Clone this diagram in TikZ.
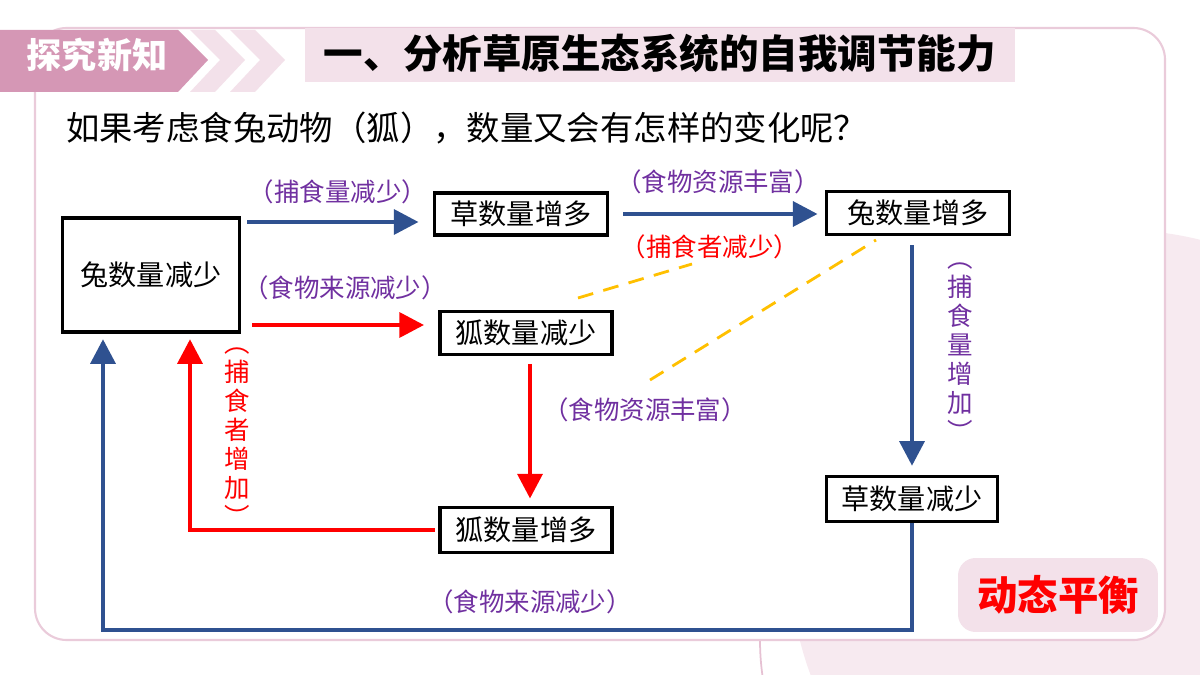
\documentclass[tikz,border=0pt]{standalone}
\usepackage{fontspec}
\setmainfont{Noto Sans CJK SC}
\usetikzlibrary{arrows.meta}
\definecolor{tagpink}{HTML}{D597B5}
\definecolor{lightpink}{HTML}{F3E1EA}
\definecolor{flowblue}{HTML}{2F5190}
\definecolor{flowpurple}{HTML}{7030A0}
\definecolor{dashorange}{HTML}{FFC000}
\tikzset{
  box/.style={draw,line width=2.2pt,fill=white,inner sep=0pt,font=\fontsize{16}{18}\selectfont},
  lbl/.style={text=flowpurple,font=\fontsize{14.5}{16}\selectfont,inner sep=0pt},
  vlbl/.style={lbl,align=center,font=\fontsize{14.5}{16.5}\selectfont},
  bluearrow/.style={flowblue,line width=2.5pt,-{Triangle[length=14pt,width=14pt]}},
  redarrow/.style={red,line width=2.5pt,-{Triangle[length=14pt,width=14pt]}},
  dashline/.style={dashorange,line width=1.6pt,dash pattern=on 9pt off 6pt}
}
\begin{document}
\begin{tikzpicture}[x=0.02cm,y=-0.02cm]
        %%%%%%%% Sfondo %%%%%%%%
        \useasboundingbox (0,0) rectangle (1200,675);
        \begin{scope}
          \clip (0,0) rectangle (1200,675);
          \fill[lightpink!70] (1120,560) circle (330);
          \draw[tagpink!60,line width=1pt] (760,640) arc (180:120:260);
        \end{scope}
        \draw[tagpink!50,fill=white,line width=1.2pt,rounded corners=18pt] (35,28) rectangle (1165,640);

        %%%%%%%% Intestazione %%%%%%%%
        \fill[tagpink] (0,30) -- (178,30) -- (208,60) -- (178,92) -- (0,92) -- cycle;
        \foreach \dx in {0,40} {
          \fill[lightpink] (190+\dx,30) -- (215+\dx,30) -- (245+\dx,60) -- (215+\dx,92) -- (190+\dx,92) -- (220+\dx,60) -- cycle;
        }
        \node[white,font=\fontsize{20}{22}\bfseries] (tag) at (97,55) {探究新知};
        \fill[lightpink] (305,28) rectangle (1015,82);
        \node[font=\fontsize{22.5}{24}\bfseries] (title) at (660,53) {一、分析草原生态系统的自我调节能力};
        \node[anchor=west,font=\fontsize{19}{21}\selectfont] (question) at (60,128) {如果考虑食兔动物（狐），数量又会有怎样的变化呢？};

        %%%%%%%% Riquadri %%%%%%%%
        \node[box,minimum width=3.54cm,minimum height=2.28cm] (rabbitdown) at (151,275) {兔数量减少};
        \node[box,minimum width=3.46cm,minimum height=0.84cm] (grassup) at (521,214) {草数量增多};
        \node[box,minimum width=3.66cm,minimum height=0.86cm] (rabbitup) at (918,213) {兔数量增多};
        \node[box,minimum width=3.44cm,minimum height=0.86cm] (foxdown) at (526,333) {狐数量减少};
        \node[box,minimum width=3.44cm,minimum height=0.9cm] (foxup) at (526,530) {狐数量增多};
        \node[box,minimum width=3.42cm,minimum height=0.9cm] (grassdown) at (912,499) {草数量减少};
        \node[fill=lightpink,rounded corners=10pt,minimum width=4cm,minimum height=1.48cm,text=red,font=\fontsize{23}{25}\bfseries] (balance) at (1058,595) {动态平衡};

        %%%%%%%% Frecce %%%%%%%%
        \draw[bluearrow,shorten >=8pt] (247,222) -- (grassup.west |- 0,222);
        \node[lbl] (l1) at (338,192) {（捕食量减少）};
        \draw[bluearrow,shorten <=8pt,shorten >=4pt] (grassup.east) -- (rabbitup.west |- grassup.east);
        \node[lbl] (l2) at (718,182) {（食物资源丰富）};
        \node[lbl,text=red] (l3) at (710,247) {（捕食者减少）};
        \draw[redarrow,shorten >=8pt] (252,325) -- (foxdown.west |- 0,325);
        \node[lbl] (l4) at (345,288) {（食物来源减少）};
        \draw[redarrow,shorten <=5pt,shorten >=4pt] (530,355) -- (foxup.north -| 530,0);
        \node[lbl] (l5) at (645,410) {（食物资源丰富）};
        \draw[redarrow,shorten <=2pt,shorten >=3pt] (foxup.west |- 0,530) -- (190,530) -- (190 ,0 |- rabbitdown.south);
        \node[vlbl,text=red] (l6) at (237,437) {︵\\捕\\食\\者\\增\\加\\︶};
        \draw[bluearrow,shorten <=5pt,shorten >=5pt] (912,0 |- rabbitup.south) -- (912,0 |- grassdown.north);
        \node[vlbl] (l7) at (960,352) {︵\\捕\\食\\量\\增\\加\\︶};
        \draw[bluearrow,shorten >=3pt] (grassdown.south) -- (912,630) -- (103,630) -- (103,0 |- rabbitdown.south);
        \node[lbl] (l8) at (530,602) {（食物来源减少）};
        \draw[dashline] (578,298) -- (692,264);
        \draw[dashline] (650,380) -- (876,240);
    \end{tikzpicture}
\end{document}
